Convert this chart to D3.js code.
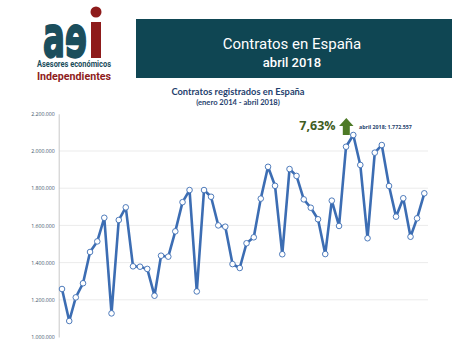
<!DOCTYPE html>
<html><head><meta charset="utf-8">
<script src="https://cdn.jsdelivr.net/npm/d3@7"></script>
<style>html,body{margin:0;padding:0;background:#fff;}svg{display:block;}</style>
</head><body>
<svg id="c" width="474" height="344"></svg>
<script>
const months = d3.range(52).map(i => new Date(2014, i, 1));
const contratos = [
 1258000,1086000,1213000,1289000,1457000,1514000,1641000,1127000,1629000,1697000,1380000,1378000,
 1366000,1222000,1437000,1432000,1568000,1725000,1790000,1245000,1790000,1754000,1600000,1593000,
 1392000,1371000,1504000,1536000,1744000,1915000,1813000,1445000,1903000,1866000,1740000,1695000,
 1633000,1446000,1733000,1597000,2023000,2086000,1925000,1531000,1991000,2032000,1812000,1647000,
 1746000,1539000,1638000,1772557];
const yTicks = [1000000,1200000,1400000,1600000,1800000,2000000,2200000];
const gridTicks = [1200000,1400000,1600000,1800000,2000000];

const svg = d3.select("#c");
const teal = "#0f4653", red = "#8e1b1b", navy = "#1f3f6e";

// Logo
const logo = svg.append("g");
logo.append("text").attr("transform","translate(43,57) scale(1,1.3)").text("aɘ")
  .attr("font-family","DejaVu Sans").attr("font-weight","bold").attr("font-size",44)
  .attr("textLength",44).attr("lengthAdjust","spacingAndGlyphs")
  .attr("fill","#1b4e5c").attr("stroke","#1b4e5c").attr("stroke-width",1.6).attr("stroke-linejoin","round");
logo.append("rect").attr("x",91).attr("y",22).attr("width",10).attr("height",36).attr("fill",red);
logo.append("circle").attr("cx",96).attr("cy",12).attr("r",5.5).attr("fill",red);
logo.append("text").attr("x",74).attr("y",66.5).attr("text-anchor","middle").text("Asesores económicos")
  .attr("font-family","Liberation Sans Narrow, Roboto").attr("font-weight","bold").attr("font-size",9)
  .attr("textLength",74).attr("lengthAdjust","spacingAndGlyphs").attr("fill","#1b4e5c");
logo.append("text").attr("x",74).attr("y",80).attr("text-anchor","middle").text("Independientes")
  .attr("font-family","Roboto").attr("font-weight","bold").attr("font-size",11.5)
  .attr("textLength",74).attr("lengthAdjust","spacingAndGlyphs").attr("fill",red);

// Banner
svg.append("rect").attr("x",136).attr("y",19).attr("width",316).attr("height",59).attr("fill",teal);
svg.append("text").attr("x",292).attr("y",49).attr("text-anchor","middle").text("Contratos en España")
  .attr("font-family","Roboto").attr("font-size",15).attr("fill","#fff");
svg.append("text").attr("x",292).attr("y",67).attr("text-anchor","middle").text("abril 2018")
  .attr("font-family","Roboto").attr("font-weight","500").attr("font-size",13).attr("fill","#fff");

// Chart titles
svg.append("text").attr("x",238).attr("y",95).attr("text-anchor","middle").text("Contratos registrados en España")
  .attr("font-family","Lato").attr("font-weight","bold").attr("font-size",9.3).attr("fill",navy);
svg.append("text").attr("x",238).attr("y",104.5).attr("text-anchor","middle").text("(enero 2014 - abril 2018)")
  .attr("font-family","Lato").attr("font-weight","bold").attr("font-size",7.6).attr("fill",navy);

// Scales
const x = d3.scaleTime().domain([months[0], months[51]]).range([62, 424.3]);
const y = d3.scaleLinear().domain([1000000, 2200000]).range([337, 113.8]);
const fmt = v => d3.format(",")(v).replace(/,/g,".");

// Grid
svg.append("g").selectAll("line").data(gridTicks).join("line")
  .attr("x1",59).attr("x2",428).attr("y1",d=>y(d)).attr("y2",d=>y(d))
  .attr("stroke","#e6e6e6").attr("stroke-width",0.8);

// Y axis
const yAxis = svg.append("g").attr("transform","translate(58.7,0)")
  .call(d3.axisLeft(y).tickValues(yTicks).tickFormat(fmt).tickSize(0).tickPadding(4));
yAxis.select(".domain").attr("stroke","#c8c8c8").attr("stroke-width",1);
yAxis.selectAll("text").attr("font-family","Open Sans").attr("font-size",5.2).attr("fill","#44546a");

// Line
const line = d3.line().x((d,i)=>x(months[i])).y(d=>y(d));
svg.append("path").datum(contratos).attr("d",line).attr("fill","none")
  .attr("stroke","#3c6db3").attr("stroke-width",2.6).attr("stroke-linejoin","round");
svg.append("g").selectAll("circle").data(contratos).join("circle")
  .attr("cx",(d,i)=>x(months[i])).attr("cy",d=>y(d)).attr("r",2.8)
  .attr("fill","#fff").attr("stroke","#3c6db3").attr("stroke-width",0.9);

// Annotation
svg.append("text").attr("x",317.5).attr("y",130).attr("text-anchor","middle").text("7,63%")
  .attr("font-family","Open Sans").attr("font-weight","bold").attr("font-size",12.5).attr("fill","#3f5d22");
svg.append("path").attr("d","M346.3,118 L353.5,126 L349.8,126 L349.8,135 L342.8,135 L342.8,126 L339.1,126 Z")
  .attr("fill","#4d7a26");
svg.append("text").attr("x",359).attr("y",129).text("abril 2018; 1.772.557")
  .attr("font-family","Open Sans").attr("font-weight","bold").attr("font-size",5.3).attr("fill",navy);
</script>
</body></html>
